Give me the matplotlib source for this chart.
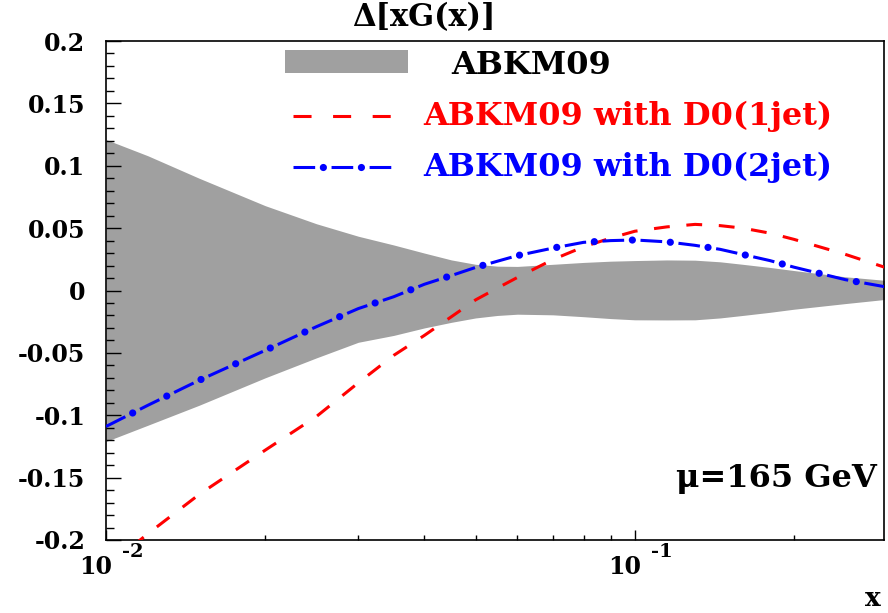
import matplotlib
matplotlib.use("Agg")

import matplotlib.pyplot as plt
from matplotlib.patches import Rectangle
from matplotlib.lines import Line2D
from matplotlib import transforms


# =========================================================
# 1. データ
# =========================================================

x_vals = [0.01, 0.012, 0.015, 0.02, 0.025, 0.03, 0.035, 0.04, 0.045, 0.05,
          0.055, 0.06, 0.07, 0.08, 0.09, 0.1, 0.115, 0.13, 0.145, 0.16,
          0.18, 0.2, 0.25, 0.3]

# ABKM09 の誤差バンド（上端・下端）
band_hi = [0.121, 0.108, 0.090, 0.068, 0.0535, 0.0435, 0.0365, 0.030, 0.0245, 0.021,
           0.0195, 0.0193, 0.021, 0.0225, 0.0235, 0.024, 0.0245, 0.0243, 0.023, 0.021,
           0.0185, 0.016, 0.011, 0.008]
band_lo = [-0.121, -0.108, -0.092, -0.070, -0.054, -0.0415, -0.036, -0.030, -0.0255, -0.022,
           -0.020, -0.019, -0.0195, -0.021, -0.0225, -0.0235, -0.0236, -0.0235, -0.022, -0.020,
           -0.0175, -0.015, -0.0105, -0.007]

# D0(1jet) を加えたフィット
d0_1jet = [-0.222, -0.195, -0.1635, -0.128, -0.101, -0.074, -0.052, -0.036, -0.021, -0.0075,
           0.002, 0.0105, 0.0248, 0.035, 0.042, 0.0475, 0.051, 0.053, 0.052, 0.050,
           0.046, 0.041, 0.029, 0.018]

# D0(2jet) を加えたフィット
d0_2jet = [-0.109, -0.092, -0.072, -0.048, -0.029, -0.0145, -0.005, 0.005, 0.012, 0.0185,
           0.0235, 0.028, 0.034, 0.0386, 0.040, 0.0405, 0.039, 0.0362, 0.033, 0.0289,
           0.024, 0.0187, 0.0087, 0.0027]

y_ticks = [-0.2, -0.15, -0.1, -0.05, 0.0, 0.05, 0.1, 0.15, 0.2]
y_tick_labels = ["-0.2", "-0.15", "-0.1", "-0.05", "0", "0.05", "0.1", "0.15", "0.2"]

x_label_ticks = [0.01, 0.1]
x_label_exps = ["-2", "-1"]

legend_labels = ["ABKM09", "ABKM09 with D0(1jet)", "ABKM09 with D0(2jet)"]

BAND_COLOR = "#a0a0a0"
RED = "#ff0000"
BLUE = "#0000ff"


# =========================================================
# 2. スタイル
# =========================================================

plt.rcParams["font.family"] = ["DejaVu Serif"]
plt.rcParams["font.weight"] = "bold"
plt.rcParams["axes.unicode_minus"] = False
plt.rcParams["lines.scale_dashes"] = False

fig = plt.figure(figsize=(8.88, 6.13), dpi=100)
ax = fig.add_axes([0.1194, 0.1191, 0.8761, 0.8140])

ax.set_xscale("log")
ax.set_xlim(0.01, 0.296)
ax.set_ylim(-0.2, 0.2)

for spine in ax.spines.values():
    spine.set_linewidth(1.2)


# =========================================================
# 3. バンドと曲線
# =========================================================

ax.fill_between(x_vals, band_lo, band_hi, color=BAND_COLOR, linewidth=0, zorder=1)

ax.plot(x_vals, d0_1jet, color=RED, linewidth=2.2,
        linestyle=(0, (11.4, 12.0)), dash_capstyle="butt", zorder=3)

# 一点鎖線：線分と丸い点を重ねて描く
P, DASH, DOT_AT = 27.4, 15.6, 21.5
ax.plot(x_vals, d0_2jet, color=BLUE, linewidth=2.2,
        linestyle=(0, (DASH, P - DASH)), dash_capstyle="butt", zorder=4)
ax.plot(x_vals, d0_2jet, color=BLUE, linewidth=5.2,
        linestyle=(P - DOT_AT, (0.01, P - 0.01)), dash_capstyle="round", zorder=4)


# =========================================================
# 4. 目盛り
# =========================================================

ax.set_yticks(y_ticks)
ax.set_yticklabels(y_tick_labels, fontsize=17, fontweight="bold")
ax.set_yticks([v / 100 for v in range(-20, 21)], minor=True)
ax.tick_params(axis="y", which="major", direction="in", length=11, width=1, pad=15)
ax.tick_params(axis="y", which="minor", direction="in", length=5.8, width=1)

ax.set_xticks(x_label_ticks)
ax.set_xticklabels(["", ""])
ax.set_xticks([k * 0.01 for k in range(2, 10)] + [0.2], minor=True)
ax.xaxis.set_minor_formatter(plt.NullFormatter())
ax.tick_params(axis="x", which="major", direction="in", length=7.2, width=1)
ax.tick_params(axis="x", which="minor", direction="in", length=3.6, width=1)
ax.tick_params(top=False, right=False, which="both")

# 10^-2, 10^-1 のラベル
blend = transforms.blended_transform_factory(ax.transData, ax.transAxes)
for xt, ex in zip(x_label_ticks, x_label_exps):
    t_base = transforms.offset_copy(blend, fig=fig, x=0.06, y=-0.27, units="inches")
    ax.text(xt, 0, "10", transform=t_base, ha="right", va="center",
            fontsize=17, fontweight="bold")
    t_exp = transforms.offset_copy(blend, fig=fig, x=0.16, y=-0.12, units="inches")
    ax.text(xt, 0, ex, transform=t_exp, ha="left", va="center",
            fontsize=14, fontweight="bold")


# =========================================================
# 5. 凡例（手描き）
# =========================================================

ax.add_patch(Rectangle((0.2301, 0.9359), 0.1581, 0.0461, transform=ax.transAxes,
                       facecolor=BAND_COLOR, edgecolor="none", zorder=5))
ax.text(0.4443, 0.9505, legend_labels[0], transform=ax.transAxes,
        ha="left", va="center", fontsize=23, fontweight="bold", color="black")

ax.add_line(Line2D([0.2404, 0.3689], [0.8497, 0.8497], transform=ax.transAxes,
                   color=RED, linewidth=2.2, linestyle=(0, (13.0, 15.5))))
ax.text(0.4075, 0.8497, legend_labels[1], transform=ax.transAxes,
        ha="left", va="center", fontsize=23, fontweight="bold", color=RED)

ax.add_line(Line2D([0.2404, 0.3689], [0.7475, 0.7475], transform=ax.transAxes,
                   color=BLUE, linewidth=2.2, linestyle=(0, (DASH, P - DASH))))
ax.add_line(Line2D([0.2404, 0.3689], [0.7475, 0.7475], transform=ax.transAxes,
                   color=BLUE, linewidth=5.2, dash_capstyle="round",
                   linestyle=(P - DOT_AT, (0.01, P - 0.01))))
ax.text(0.4075, 0.7475, legend_labels[2], transform=ax.transAxes,
        ha="left", va="center", fontsize=23, fontweight="bold", color=BLUE)


# =========================================================
# 6. 文字
# =========================================================

fig.text(0.396, 0.972, "Δ[xG(x)]", ha="left", va="center", fontsize=22, fontweight="bold")
ax.text(0.991, 0.124, "μ=165 GeV", transform=ax.transAxes,
        ha="right", va="center", fontsize=23, fontweight="bold")
fig.text(0.992, 0.024, "x", ha="right", va="center", fontsize=19, fontweight="bold")

fig.savefig("out.png", dpi=100)
